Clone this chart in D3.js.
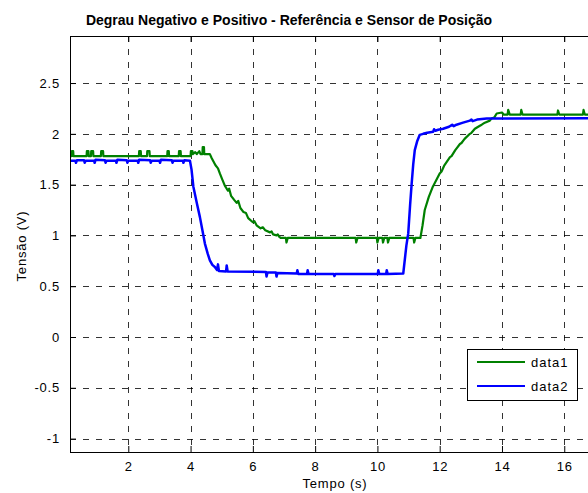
<!DOCTYPE html>
<html>
<head>
<meta charset="utf-8">
<script src="https://cdn.jsdelivr.net/npm/d3@7"></script>
<style>
  html, body { margin: 0; padding: 0; background: #fff; }
  svg { display: block; font-family: "Liberation Sans", Arial, sans-serif; }
</style>
</head>
<body>
<svg id="chart" width="588" height="493"></svg>
<script>
// Step response: reference (data1) and position sensor (data2), [time s, voltage V]
const data1 = [
  [0.13,1.78],[0.18,1.78],[0.19,1.83],[0.23,1.83],[0.24,1.78],
  [0.66,1.78],[0.67,1.83],[0.72,1.83],[0.73,1.78],[0.80,1.78],[0.81,1.83],[0.87,1.83],[0.88,1.78],
  [1.12,1.78],[1.13,1.83],[1.19,1.83],[1.20,1.78],
  [2.34,1.78],[2.35,1.83],[2.40,1.83],[2.41,1.78],
  [2.60,1.78],[2.61,1.83],[2.68,1.83],[2.69,1.78],
  [3.25,1.78],[3.26,1.83],[3.30,1.83],[3.31,1.78],
  [3.62,1.78],[3.63,1.83],[3.68,1.83],[3.69,1.78],
  [4.00,1.78],[4.01,1.83],[4.06,1.83],[4.07,1.80],[4.15,1.82],[4.20,1.80],[4.28,1.83],[4.32,1.80],
  [4.38,1.80],[4.39,1.87],[4.43,1.87],[4.44,1.80],[4.62,1.80],
  [4.68,1.76],[4.80,1.69],[4.88,1.66],[4.94,1.61],[5.02,1.55],[5.10,1.49],[5.20,1.44],[5.24,1.46],[5.30,1.39],
  [5.40,1.35],[5.48,1.32],[5.53,1.34],[5.60,1.27],[5.70,1.23],[5.78,1.22],[5.85,1.17],[6.00,1.13],[6.05,1.14],[6.12,1.10],[6.25,1.07],
  [6.32,1.08],[6.40,1.05],[6.55,1.03],[6.60,1.04],[6.65,1.01],[6.76,1.00],[6.80,1.01],[6.85,0.985],[6.90,0.975],
  [7.06,0.975],[7.08,0.93],[7.12,0.975],
  [9.30,0.975],[9.32,0.93],[9.36,0.975],
  [9.98,0.975],[10.00,0.93],[10.04,0.975],[10.16,0.975],[10.18,0.93],[10.22,0.975],
  [10.32,0.975],[10.34,0.93],[10.38,0.975],
  [11.16,0.975],[11.18,0.93],[11.22,0.975],[11.38,0.975],
  [11.45,1.10],[11.52,1.25],[11.65,1.38],[11.78,1.48],[11.90,1.55],[12.00,1.61],[12.06,1.63],[12.15,1.69],
  [12.33,1.77],[12.38,1.78],[12.50,1.84],[12.65,1.90],[12.70,1.91],[12.80,1.95],[12.97,2.00],[13.02,2.01],[13.13,2.05],[13.29,2.08],
  [13.35,2.09],[13.45,2.11],[13.61,2.13],[13.66,2.15],[13.75,2.16],[13.83,2.20],[14.00,2.21],[14.05,2.19],
  [14.18,2.19],[14.20,2.235],[14.25,2.19],[14.60,2.19],[14.62,2.235],[14.66,2.19],
  [15.78,2.19],[15.80,2.23],[15.84,2.19],[16.60,2.19],[16.62,2.235],[16.66,2.19],[17.20,2.19]
];
const data2 = [
  [0.13,1.735],[0.30,1.735],[0.32,1.715],[0.35,1.74],[0.58,1.74],[0.60,1.715],[0.63,1.735],
  [0.90,1.735],[0.92,1.715],[0.95,1.745],[1.25,1.74],[1.27,1.715],[1.30,1.735],
  [1.60,1.735],[1.62,1.715],[1.65,1.745],[1.95,1.74],[1.97,1.715],[2.00,1.735],
  [2.30,1.735],[2.32,1.715],[2.35,1.745],[2.70,1.74],[2.72,1.715],[2.75,1.735],
  [3.00,1.735],[3.02,1.715],[3.05,1.745],[3.40,1.74],[3.42,1.715],[3.45,1.735],
  [3.75,1.735],[3.77,1.715],[3.80,1.74],[3.98,1.735],
  [4.03,1.65],[4.09,1.48],[4.20,1.32],[4.30,1.18],[4.38,1.05],[4.46,0.92],[4.55,0.82],
  [4.62,0.755],[4.70,0.71],[4.78,0.69],[4.85,0.66],[4.88,0.715],[4.91,0.65],
  [5.14,0.645],[5.16,0.705],[5.19,0.645],[6.42,0.64],[6.44,0.595],[6.47,0.635],
  [6.74,0.635],[6.76,0.595],[6.79,0.63],[7.41,0.625],[7.43,0.657],[7.46,0.62],
  [7.74,0.62],[7.76,0.657],[7.79,0.62],[8.60,0.62],[8.62,0.60],[8.65,0.62],
  [10.01,0.62],[10.03,0.657],[10.06,0.62],[10.28,0.62],[10.30,0.657],[10.33,0.62],
  [10.83,0.625],[10.93,0.90],[10.99,1.02],[11.05,1.30],[11.10,1.51],[11.15,1.70],
  [11.20,1.84],[11.28,1.93],[11.36,1.99],[11.47,2.00],[11.60,2.01],[11.79,2.02],[11.82,2.045],[11.86,2.03],
  [11.95,2.04],[12.11,2.05],[12.30,2.07],[12.40,2.09],[12.45,2.075],[12.54,2.09],[12.75,2.11],[12.97,2.13],
  [13.02,2.14],[13.06,2.125],[13.20,2.14],[13.51,2.15],[17.20,2.155]
];
const seriesNames = ["data1", "data2"];
const xTicks = [2, 4, 6, 8, 10, 12, 14, 16];
const yTicks = [-1, -0.5, 0, 0.5, 1, 1.5, 2, 2.5];

const titleText = "Degrau Negativo e Positivo - Referência e Sensor de Posição";
const xLabel = "Tempo (s)";
const yLabel = "Tensão (V)";
const colors = ["#008000", "#0000ff"];

const svg = d3.select("#chart");
const plot = { left: 70, top: 36, right: 600, bottom: 452 };

const x = d3.scaleLinear().domain([0.128, 17.148]).range([plot.left, plot.right]);
const y = d3.scaleLinear().domain([-1.132, 2.963]).range([plot.bottom, plot.top]);

svg.append("rect").attr("width", 588).attr("height", 493).attr("fill", "#fff");

svg.append("defs").append("clipPath").attr("id", "plotClip")
  .append("rect")
  .attr("x", plot.left).attr("y", plot.top)
  .attr("width", plot.right - plot.left).attr("height", plot.bottom - plot.top);

// dashed grid
const grid = svg.append("g").attr("stroke", "#000").attr("stroke-width", 1)
  .attr("stroke-dasharray", "6,7").attr("stroke-opacity", 0.8);
grid.selectAll("line.gx").data(xTicks).join("line")
  .attr("x1", d => Math.round(x(d)) + 0.5).attr("x2", d => Math.round(x(d)) + 0.5)
  .attr("y1", plot.top).attr("y2", plot.bottom);
grid.selectAll("line.gy").data(yTicks).join("line")
  .attr("y1", d => Math.round(y(d)) + 0.5).attr("y2", d => Math.round(y(d)) + 0.5)
  .attr("x1", plot.left).attr("x2", plot.right);

// data lines
const line = d3.line().x(d => x(d[0])).y(d => y(d[1]));
const lines = svg.append("g").attr("clip-path", "url(#plotClip)");
[data1, data2].forEach((s, i) => {
  lines.append("path").datum(s)
    .attr("fill", "none")
    .attr("stroke", colors[i])
    .attr("stroke-width", i === 0 ? 2.2 : 2.5)
    .attr("stroke-linejoin", "round")
    .attr("d", line);
});

// axes (ticks point inward, box style)
const fmt = d => String(d);
const axisFont = g => g.selectAll("text")
  .attr("font-family", "'Liberation Sans', Arial, sans-serif")
  .attr("font-size", 13).attr("letter-spacing", "0.8px").attr("fill", "#000");

const xAxis = svg.append("g").attr("transform", `translate(0,${plot.bottom})`)
  .call(d3.axisBottom(x).tickValues(xTicks).tickFormat(fmt).tickSizeInner(-6).tickSizeOuter(0).tickPadding(10));
xAxis.call(axisFont);
const xAxisTop = svg.append("g").attr("transform", `translate(0,${plot.top})`)
  .call(d3.axisTop(x).tickValues(xTicks).tickFormat("").tickSizeInner(-6).tickSizeOuter(0));
const yAxis = svg.append("g").attr("transform", `translate(${plot.left},0)`)
  .call(d3.axisLeft(y).tickValues(yTicks).tickFormat(fmt).tickSizeInner(-6).tickSizeOuter(0).tickPadding(10));
yAxis.call(axisFont);
[xAxis, xAxisTop, yAxis].forEach(a => {
  a.select(".domain").attr("stroke", "#000").attr("stroke-width", 1);
  a.selectAll(".tick line").attr("stroke", "#000");
});

// frame
svg.append("rect")
  .attr("x", plot.left + 0.5).attr("y", plot.top + 0.5)
  .attr("width", plot.right - plot.left).attr("height", plot.bottom - plot.top)
  .attr("fill", "none").attr("stroke", "#000").attr("stroke-width", 1);

// titles
svg.append("text").attr("x", 289).attr("y", 25).attr("text-anchor", "middle")
  .attr("font-size", 14).attr("font-weight", "bold").text(titleText);
svg.append("text").attr("x", 335).attr("y", 488).attr("text-anchor", "middle")
  .attr("font-size", 13).attr("letter-spacing", "0.8px").text(xLabel);
svg.append("text").attr("transform", "translate(26,246) rotate(-90)").attr("text-anchor", "middle")
  .attr("font-size", 13).attr("letter-spacing", "0.8px").text(yLabel);

// legend
const leg = svg.append("g");
leg.append("rect").attr("x", 467.5).attr("y", 349.5).attr("width", 110).attr("height", 51)
  .attr("fill", "#fff").attr("stroke", "#000").attr("stroke-width", 1);
seriesNames.forEach((name, i) => {
  const ly = 362 + i * 24;
  leg.append("line").attr("x1", 477).attr("x2", 525).attr("y1", ly).attr("y2", ly)
    .attr("stroke", colors[i]).attr("stroke-width", 2);
  leg.append("text").attr("x", 531).attr("y", ly + 5)
    .attr("font-size", 13).attr("letter-spacing", "1px").text(name);
});
</script>
</body>
</html>
